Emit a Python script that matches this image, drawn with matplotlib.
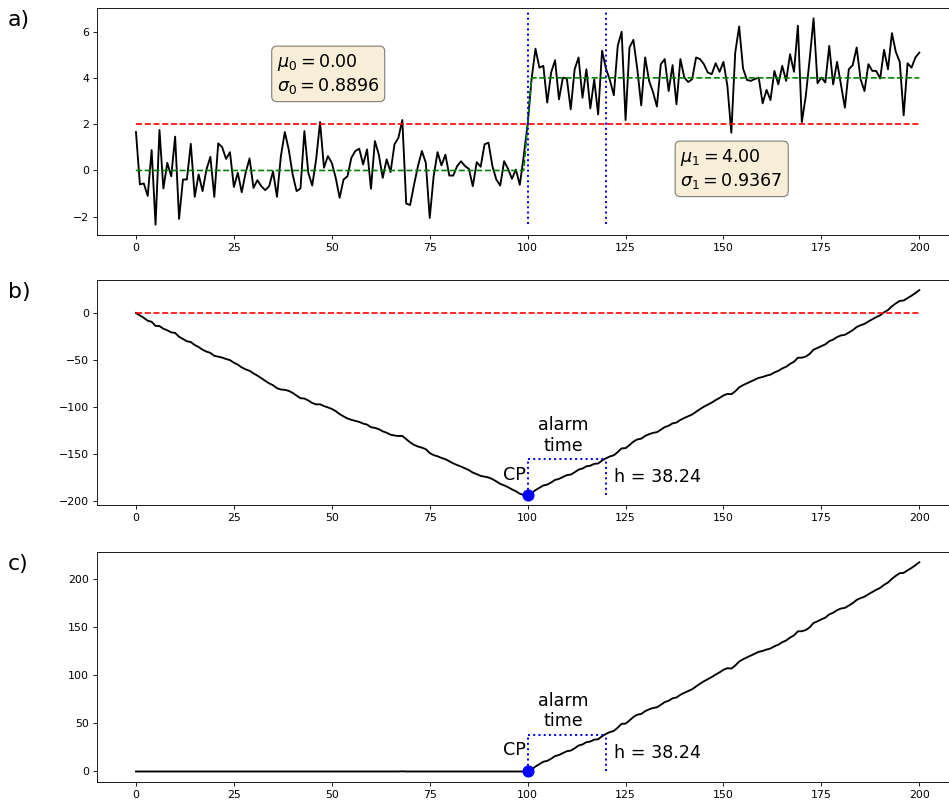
import numpy as np
import matplotlib
matplotlib.use("Agg")
import matplotlib.pyplot as plt

# observed signal, samples 0..200
signal = [
    1.66, -0.60, -0.56, -1.10, 0.88, -2.34, 1.75, -0.78, 0.33, -0.25,
    1.46, -2.09, -0.39, -0.39, 1.15, -1.14, -0.17, -0.89, 0.04, 0.59,
    -1.14, 1.17, 1.01, 0.50, 0.79, -0.71, -0.10, -0.94, -0.10, 0.52,
    -0.75, -0.42, -0.68, -0.85, -0.68, -0.04, -1.14, 0.62, 1.66, 0.91,
    -0.17, -0.89, -0.78, 1.70, -0.10, -0.65, 0.48, 2.09, 0.12, 0.62,
    0.33, -0.32, -1.18, -0.39, -0.25, 0.55, 0.84, 0.94, 0.26, 0.91,
    -0.79, 1.27, 0.69, -0.32, 0.48, -0.07, 1.13, 1.41, 2.18, -1.43,
    -1.49, -0.61, 0.19, 0.84, 0.33, -2.05, -0.25, 0.79, 0.22, 0.68,
    -0.22, -0.22, 0.19, 0.40, 0.19, 0.07, -0.68, 0.36, 0.16, 1.13,
    1.20, 0.19, -0.39, -0.65, 0.40, 0.07, -0.36, 0.04, -0.62, 0.62,
    2.00,
    3.94, 5.26, 4.44, 4.52, 2.93, 4.23, 4.76, 3.07, 4.01, 3.97,
    2.64, 4.37, 4.88, 3.14, 4.37, 2.68, 3.93, 2.42, 5.17, 4.40,
    3.90, 3.25, 5.38, 5.99, 2.18, 5.31, 5.64, 4.37, 2.81, 4.88,
    3.87, 3.39, 2.76, 4.59, 4.81, 3.43, 4.55, 2.86, 4.81, 4.01,
    3.82, 3.94, 4.88, 4.81, 4.59, 4.23, 4.16, 4.63, 4.26, 4.69,
    3.65, 1.63, 5.09, 6.22, 4.40, 3.91, 3.87, 3.95, 4.01, 2.90,
    3.48, 3.04, 4.30, 3.72, 4.52, 3.87, 5.02, 4.26, 6.25, 2.09,
    3.20, 4.80, 6.57, 3.77, 4.01, 3.80, 5.38, 3.72, 4.69, 3.70,
    2.71, 4.37, 4.55, 5.31, 3.94, 3.43, 4.59, 4.30, 4.30, 3.97,
    5.21, 4.37, 5.93, 5.12, 4.69, 2.38, 4.63, 4.44, 4.88, 5.09,
]

mu0, mu1 = 0.00, 4.00
sigma0, sigma1 = 0.8896, 0.9367
change_point = 100
alarm_time = 120
h = 38.24
panel_labels = ["a)", "b)", "c)"]

x = np.asarray(signal)
t = np.arange(len(x))
k = (mu0 + mu1) / 2.0

# piecewise mean of the process
mean_line = np.where(t < change_point, mu0, np.where(t > change_point, mu1, k))

# cumulative sum of deviations from the reference value k
g = np.cumsum(x - k)

# one-sided CUSUM statistic
s = np.zeros_like(x)
acc = 0.0
for i, v in enumerate(x):
    acc = max(0.0, acc + v - k)
    s[i] = acc

DPI = 79
fig = plt.figure(figsize=(949 / DPI, 802 / DPI), dpi=DPI)
left, width = 0.102, 0.908
ax_a = fig.add_axes([left, 0.707, width, 0.283])
ax_b = fig.add_axes([left, 0.370, width, 0.281])
ax_c = fig.add_axes([left, 0.025, width, 0.287])

LW = 1.7

# ---- a) raw signal ----
ax_a.plot(t, x, color="k", lw=LW)
ax_a.hlines(k, t[0], t[-1], colors="r", linestyles="--", lw=1.5)
ax_a.plot(t, mean_line, color="g", ls="--", lw=1.5)
for xv in (change_point, alarm_time):
    ax_a.axvline(xv, ymin=0.05, ymax=0.99, color="b", ls=":", lw=1.8)
box = dict(boxstyle="round", facecolor="wheat", alpha=0.5)
ax_a.text(36, 5.1, rf"$\mu_0 = {mu0:.2f}$" + "\n" + rf"$\sigma_0 = {sigma0:.4f}$",
          fontsize=16, va="top", ha="left", bbox=box)
ax_a.text(139, 1.0, rf"$\mu_1 = {mu1:.2f}$" + "\n" + rf"$\sigma_1 = {sigma1:.4f}$",
          fontsize=16, va="top", ha="left", bbox=box)


def mark_alarm(ax, curve, cp_offset):
    base = curve[change_point]
    ax.plot(change_point, base, "o", color="b", ms=10, zorder=5)
    ax.vlines([change_point, alarm_time], base, base + h, colors="b",
              linestyles=":", lw=1.8)
    ax.hlines(base + h, change_point, alarm_time, colors="b",
              linestyles=":", lw=1.8)
    ax.annotate("alarm\ntime", ((change_point + alarm_time) / 2 - 1, base + h),
                xytext=(0, 4), textcoords="offset points", ha="center",
                va="bottom", fontsize=16, multialignment="center")
    ax.annotate("CP", (change_point, base), xytext=cp_offset,
                textcoords="offset points", ha="right", va="bottom",
                fontsize=16)
    ax.text(alarm_time + 2, base + h / 2, f"h = {h:.2f}", ha="left",
            va="center", fontsize=16)


# ---- b) cumulative sum ----
ax_b.plot(t, g, color="k", lw=LW)
ax_b.hlines(0, t[0], t[-1], colors="r", linestyles="--", lw=1.5)
mark_alarm(ax_b, g, (-2, 10))

# ---- c) CUSUM statistic ----
ax_c.plot(t, s, color="k", lw=LW)
mark_alarm(ax_c, s, (-2, 11))

for ax, lab in zip((ax_a, ax_b, ax_c), panel_labels):
    ax.set_xlim(-10, 210)
    ax.set_xticks(np.arange(0, 201, 25))
    ax.tick_params(labelsize=10)
    fig.text(0.008, ax.get_position().y1 - 0.003, lab, fontsize=20,
             ha="left", va="top")

fig.savefig("out.png", dpi=DPI)
